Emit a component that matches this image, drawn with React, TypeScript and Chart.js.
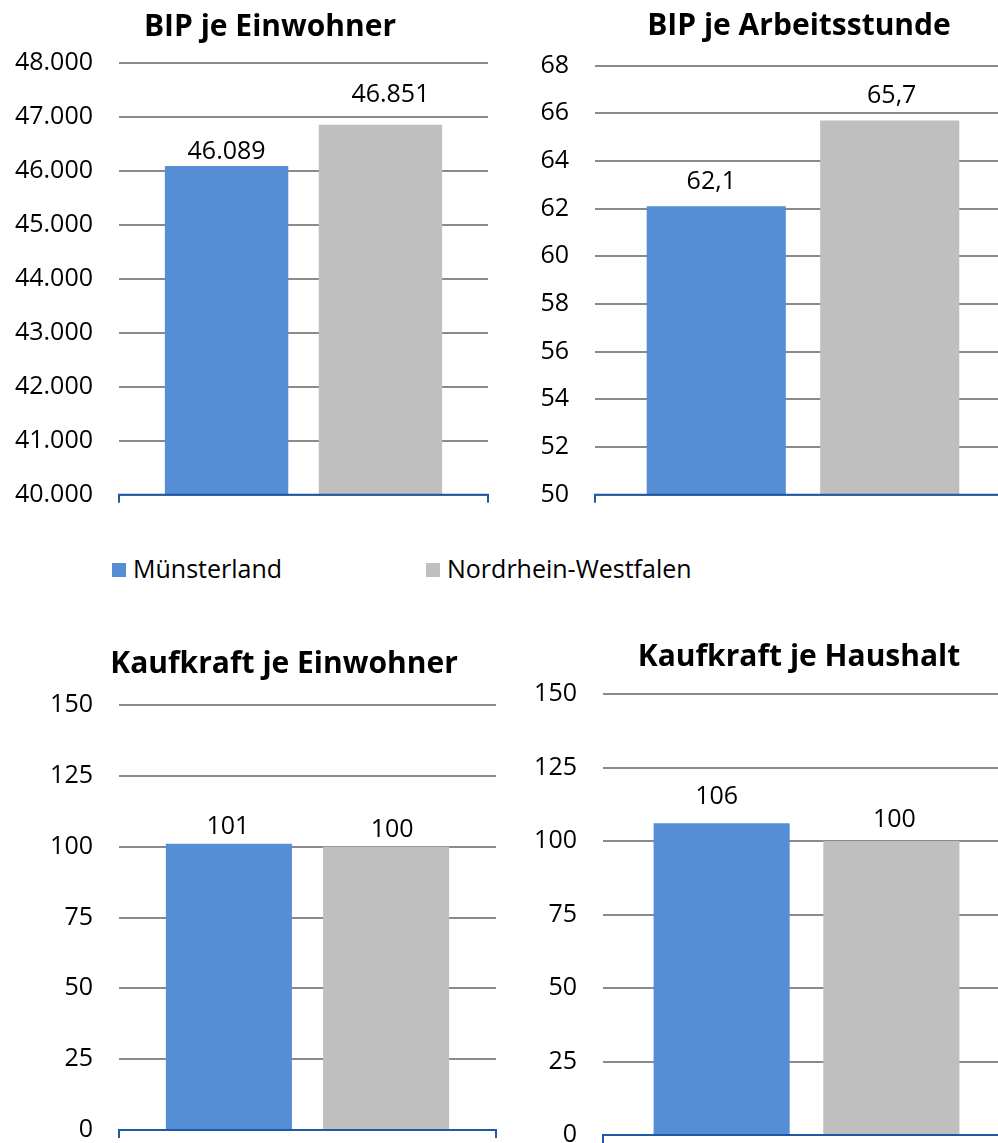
import React, { useEffect, useRef } from "react";
import { Chart, registerables } from "chart.js";

Chart.register(...registerables);

// ---------- data ----------
const SERIES_NAMES = ["Münsterland", "Nordrhein-Westfalen"];
const SERIES_COLORS = ["#558ED5", "#BFBFBF"];

const TITLE_BIP_EINWOHNER = "BIP je Einwohner";
const TITLE_BIP_ARBEITSSTUNDE = "BIP je Arbeitsstunde";
const TITLE_KAUFKRAFT_EINWOHNER = "Kaufkraft je Einwohner";
const TITLE_KAUFKRAFT_HAUSHALT = "Kaufkraft je Haushalt";

const VALUES_BIP_EINWOHNER = [46089, 46851];
const VALUES_BIP_ARBEITSSTUNDE = [62.1, 65.7];
const VALUES_KAUFKRAFT_EINWOHNER = [101, 100];
const VALUES_KAUFKRAFT_HAUSHALT = [106, 100];

const TICKS_BIP_EINWOHNER = [40000, 41000, 42000, 43000, 44000, 45000, 46000, 47000, 48000];
const TICKS_BIP_ARBEITSSTUNDE = [50, 52, 54, 56, 58, 60, 62, 64, 66, 68];
const TICKS_KAUFKRAFT = [0, 25, 50, 75, 100, 125, 150];

// ---------- styles / layout ----------
const FONT = "'Open Sans', 'Noto Sans', sans-serif";
const TEXT_SIZE = 25;
const TITLE_SIZE = 30;
const GRID_COLOR = "#8A8A8A";
const AXIS_COLOR = "#1F58A8";

function fmtDe(v: number, decimals: number): string {
  const s = v.toFixed(decimals);
  const [i, d] = s.split(".");
  const iw = i.replace(/\B(?=(\d{3})+(?!\d))/g, ".");
  return d ? iw + "," + d : iw;
}

type Spec = {
  title: string;
  values: number[];
  ticks: number[];
  decimals: number;
  box: { left: number; top: number; w: number; h: number };
  plot: { left: number; right: number; top: number; bottom: number };
  titlePos: { x: number; y: number };
  labelOffsets: { dx: number; dy: number }[];
};

const SPECS: Spec[] = [
  {
    title: TITLE_BIP_EINWOHNER,
    values: VALUES_BIP_EINWOHNER,
    ticks: TICKS_BIP_EINWOHNER,
    decimals: 0,
    box: { left: 0, top: 0, w: 499, h: 530 },
    plot: { left: 119, right: 488, top: 62.7, bottom: 494.7 },
    titlePos: { x: 270, y: 35.5 },
    labelOffsets: [{ dx: 0, dy: 7 }, { dx: 10, dy: 23 }],
  },
  {
    title: TITLE_BIP_ARBEITSSTUNDE,
    values: VALUES_BIP_ARBEITSSTUNDE,
    ticks: TICKS_BIP_ARBEITSSTUNDE,
    decimals: 1,
    box: { left: 499, top: 0, w: 530, h: 530 },
    plot: { left: 96, right: 512, top: 65.7, bottom: 494.7 },
    titlePos: { x: 300, y: 35 },
    labelOffsets: [{ dx: -5, dy: 17 }, { dx: 2, dy: 18 }],
  },
  {
    title: TITLE_KAUFKRAFT_EINWOHNER,
    values: VALUES_KAUFKRAFT_EINWOHNER,
    ticks: TICKS_KAUFKRAFT,
    decimals: 0,
    box: { left: 0, top: 600, w: 499, h: 543 },
    plot: { left: 119, right: 496, top: 105, bottom: 530 },
    titlePos: { x: 284, y: 73.3 },
    labelOffsets: [{ dx: -1, dy: 10 }, { dx: 6, dy: 10 }],
  },
  {
    title: TITLE_KAUFKRAFT_HAUSHALT,
    values: VALUES_KAUFKRAFT_HAUSHALT,
    ticks: TICKS_KAUFKRAFT,
    decimals: 0,
    box: { left: 499, top: 600, w: 530, h: 543 },
    plot: { left: 104, right: 511, top: 94, bottom: 535 },
    titlePos: { x: 300, y: 66 },
    labelOffsets: [{ dx: -5, dy: 19 }, { dx: 3, dy: 14 }],
  },
];

function makeDecorPlugin(spec: Spec) {
  return {
    id: "decor",
    afterDraw(chart: any) {
      const ctx = chart.ctx;
      const ca = chart.chartArea;
      ctx.save();
      // axis line with end ticks
      ctx.strokeStyle = AXIS_COLOR;
      ctx.lineWidth = 2;
      ctx.beginPath();
      ctx.moveTo(ca.left, ca.bottom + 8);
      ctx.lineTo(ca.left, ca.bottom);
      ctx.lineTo(ca.right, ca.bottom);
      ctx.lineTo(ca.right, ca.bottom + 8);
      ctx.stroke();
      // data labels
      ctx.fillStyle = "#000";
      ctx.font = `${TEXT_SIZE}px ${FONT}`;
      ctx.textAlign = "center";
      ctx.textBaseline = "alphabetic";
      chart.data.datasets.forEach((ds: any, i: number) => {
        const meta = chart.getDatasetMeta(i);
        const el = meta.data[0];
        const off = spec.labelOffsets[i];
        ctx.fillText(fmtDe(ds.data[0], spec.decimals), el.x + off.dx, el.y - off.dy);
      });
      // title
      ctx.font = `bold ${TITLE_SIZE}px ${FONT}`;
      ctx.fillText(spec.title, spec.titlePos.x, spec.titlePos.y);
      ctx.restore();
    },
  };
}

function ChartBox({ spec }: { spec: Spec }) {
  const ref = useRef<HTMLCanvasElement>(null);
  useEffect(() => {
    if (!ref.current) return;
    const t = spec.ticks;
    const chart = new Chart(ref.current, {
      type: "bar",
      data: {
        labels: [""],
        datasets: SERIES_NAMES.map((name, i) => ({
          label: name,
          data: [spec.values[i]],
          backgroundColor: SERIES_COLORS[i],
          borderWidth: 0,
          categoryPercentage: 0.834,
          barPercentage: 0.802,
        })),
      },
      options: {
        animation: false,
        responsive: false,
        maintainAspectRatio: false,
        devicePixelRatio: 1,
        layout: {
          padding: {
            top: spec.plot.top,
            bottom: spec.box.h - spec.plot.bottom,
            left: 0,
            right: spec.box.w - spec.plot.right,
          },
        },
        plugins: {
          legend: { display: false },
          title: { display: false },
          tooltip: { enabled: false },
        },
        scales: {
          x: { display: false },
          y: {
            min: t[0],
            max: t[t.length - 1],
            afterBuildTicks: (s: any) => {
              s.ticks = t.map((v) => ({ value: v }));
            },
            afterFit: (s: any) => {
              s.width = spec.plot.left;
              s.paddingTop = 0;
              s.paddingBottom = 0;
            },
            ticks: {
              padding: 0,
              color: "#000",
              font: { family: FONT, size: TEXT_SIZE },
              callback: (v: any) => fmtDe(Number(v), 0),
            },
            grid: {
              color: GRID_COLOR,
              lineWidth: 2,
              drawTicks: true,
              tickLength: 26,
              tickColor: "rgba(0,0,0,0)",
            },
            border: { display: false },
          },
        },
      } as any,
      plugins: [makeDecorPlugin(spec)],
    });
    return () => chart.destroy();
  }, [spec]);
  return (
    <canvas
      ref={ref}
      width={spec.box.w}
      height={spec.box.h}
      style={{
        position: "absolute",
        left: spec.box.left,
        top: spec.box.top,
        width: spec.box.w,
        height: spec.box.h,
      }}
    />
  );
}

function Legend() {
  const items = [
    { x: 112, textX: 133 },
    { x: 426, textX: 447 },
  ];
  return (
    <>
      {SERIES_NAMES.map((name, i) => (
        <React.Fragment key={name}>
          <div
            style={{
              position: "absolute",
              left: items[i].x,
              top: 563,
              width: 14,
              height: 14,
              background: SERIES_COLORS[i],
            }}
          />
          <div
            style={{
              position: "absolute",
              left: items[i].textX,
              top: 556,
              fontFamily: FONT,
              fontSize: TEXT_SIZE,
              lineHeight: `${TEXT_SIZE}px`,
              color: "#000",
              whiteSpace: "nowrap",
            }}
          >
            {name}
          </div>
        </React.Fragment>
      ))}
    </>
  );
}

export default function App() {
  return (
    <div
      style={{
        position: "fixed",
        left: 0,
        top: 0,
        width: 998,
        height: 1143,
        overflow: "hidden",
        background: "#fff",
      }}
    >
      {SPECS.map((s) => (
        <ChartBox key={s.title} spec={s} />
      ))}
      <Legend />
    </div>
  );
}
